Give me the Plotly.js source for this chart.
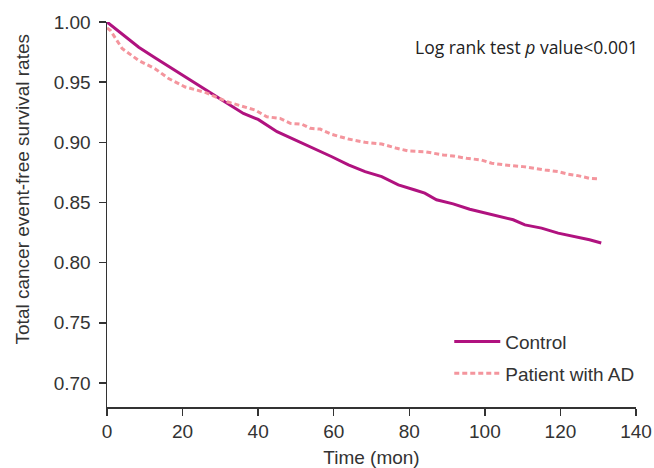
<!DOCTYPE html>
<html>
<head>
<meta charset="utf-8">
<script src="https://cdn.plot.ly/plotly-3.0.1.min.js"></script>
<style>html,body{margin:0;padding:0;background:#fff;}#chart{width:654px;height:468px;}</style>
</head>
<body>
<div id="chart"></div>
<script>
// Control group (Kaplan-Meier)
const controlTime = [0, 0.5, 4, 8.4, 12.8, 17.2, 22, 27.3, 30, 36.1, 40, 45, 49.5, 53.8, 56.4, 59.5, 63.9, 68.3, 72.7, 77.1, 81.5, 84.1, 87.2, 91.6, 96, 100.4, 104.8, 107.5, 110.6, 115, 119.4, 123.8, 127.7, 130.8];
const controlSurv = [1.000, 0.9987, 0.990, 0.979, 0.970, 0.9614, 0.952, 0.942, 0.936, 0.924, 0.919, 0.9088, 0.9025, 0.8963, 0.8922, 0.888, 0.8812, 0.8756, 0.8715, 0.8646, 0.8604, 0.8577, 0.8522, 0.8488, 0.8444, 0.8411, 0.8378, 0.8356, 0.8314, 0.8287, 0.8245, 0.8217, 0.819, 0.8163];
// Patients with AD
const adTime = [0, 0.9, 4.0, 8.4, 12.8, 16.3, 20.7, 26, 31.8, 36.1, 39.2, 42.3, 45.8, 48.5, 51.6, 53.8, 56.4, 59.5, 63.9, 68.3, 72.7, 76.7, 79.7, 84.1, 86.3, 89, 91.6, 95.2, 99.1, 101.8, 105.3, 110.1, 115.9, 119.4, 122.0, 124.6, 127.7, 130.4];
const adSurv = [0.995, 0.993, 0.978, 0.968, 0.961, 0.953, 0.946, 0.9415, 0.9337, 0.9295, 0.9268, 0.9212, 0.9199, 0.9158, 0.915, 0.9116, 0.911, 0.9066, 0.9027, 0.900, 0.8986, 0.895, 0.8928, 0.8922, 0.8909, 0.8895, 0.8886, 0.8867, 0.8853, 0.8826, 0.8812, 0.8798, 0.877, 0.8756, 0.8735, 0.8723, 0.8701, 0.8696];
const seriesNames = ['Control', 'Patient with AD'];
const xTicks = [0, 20, 40, 60, 80, 100, 120, 140];
const yTicks = [0.70, 0.75, 0.80, 0.85, 0.90, 0.95, 1.00];

const FONT = 'Liberation Sans, Arial, sans-serif';
const traces = [
  {x: controlTime, y: controlSurv, name: seriesNames[0], type: 'scatter', mode: 'lines',
   line: {color: '#b0127f', width: 3, shape: 'linear'}, legendgroup: 'a'},
  {x: adTime, y: adSurv, name: seriesNames[1], type: 'scatter', mode: 'lines',
   line: {color: '#f4959d', width: 3, shape: 'linear', dash: '5px,3px'}, legendgroup: 'b'}
];
const layout = {
  width: 654, height: 468,
  margin: {l: 107, r: 18, t: 22, b: 61},
  paper_bgcolor: '#fff', plot_bgcolor: '#fff',
  font: {family: FONT, color: '#333', size: 19},
  showlegend: true,
  legend: {x: 0.647, y: 0.128, xanchor: 'left', yanchor: 'middle', traceorder: 'grouped', tracegroupgap: 4,
           itemwidth: 46, font: {size: 19, color: '#333'}, bgcolor: 'rgba(0,0,0,0)'},
  xaxis: {range: [0, 140], tickvals: xTicks, ticktext: xTicks.map(String), showgrid: false, zeroline: false,
          showline: true, linecolor: '#333', linewidth: 1.5, ticks: 'outside', ticklen: 7, tickcolor: '#333', tickwidth: 1.5,
          title: {text: 'Time (mon)', font: {size: 19}, standoff: 10}, tickfont: {size: 19}},
  yaxis: {range: [0.68, 1.00], tickvals: yTicks, ticktext: yTicks.map(v => v.toFixed(2)), showgrid: false, zeroline: false,
          showline: true, linecolor: '#333', linewidth: 1.5, ticks: 'outside', ticklen: 7, tickcolor: '#333', tickwidth: 1.5,
          ticklabelstandoff: 4, tickfont: {size: 19}},
  annotations: [
    {text: 'Total cancer event-free survival rates', textangle: -90, xref: 'paper', yref: 'paper',
     x: -0.16, y: 0.566, xanchor: 'center', yanchor: 'middle', showarrow: false, font: {size: 19, color: '#333'}},
    {text: 'Log rank test <i>p</i> value&lt;0.001', xref: 'paper', yref: 'paper', x: 1.0, y: 0.935, xshift: 4,
     xanchor: 'right', yanchor: 'middle', showarrow: false, font: {size: 17.5, color: '#222', family: 'Open Sans, sans-serif'}}
  ]
};
Plotly.newPlot('chart', traces, layout, {displayModeBar: false, staticPlot: true});
</script>
</body>
</html>
